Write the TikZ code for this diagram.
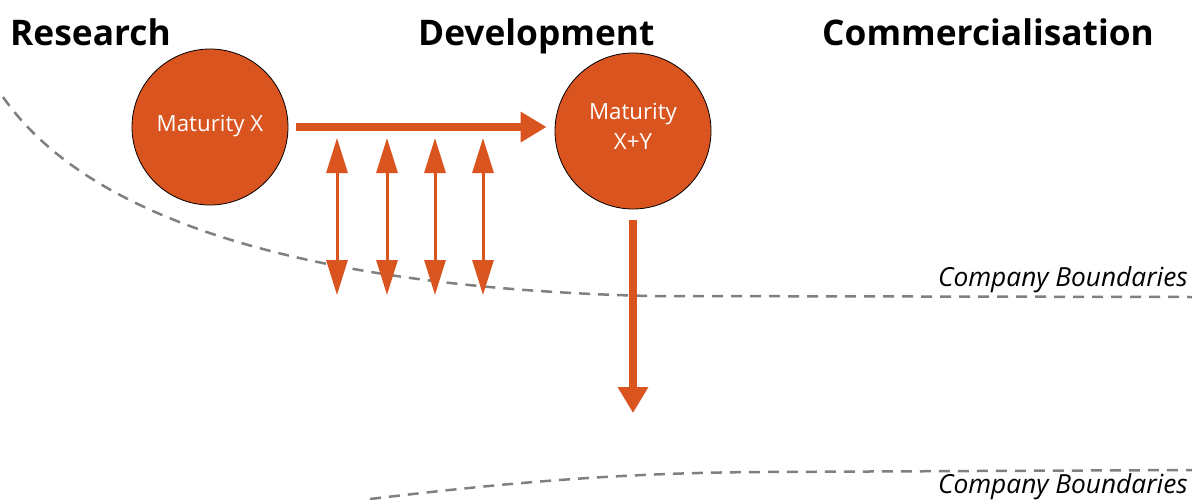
\documentclass[tikz,border=0pt]{standalone}
\usepackage{fontspec}
\setmainfont{Open Sans}
\usetikzlibrary{arrows.meta,calc}
\definecolor{rust}{RGB}{217,84,31}
\definecolor{dashgray}{RGB}{128,128,128}
\begin{document}
\begin{tikzpicture}[x=1pt,y=-1pt,
 title/.style={font=\bfseries\fontsize{35.3}{40}\selectfont, anchor=base west, inner sep=0pt},
 circ/.style={circle, fill=rust, draw=black, line width=0.8pt, minimum size=156pt, inner sep=0pt},
 circtext/.style={text=white, font=\fontsize{22.3}{30}\selectfont, align=center, inner sep=0pt},
 bigarrow/.style={draw=rust, line width=8pt, -{Triangle[length=26pt,width=29pt]}},
 dblarrow/.style={draw=rust, line width=3pt, {Triangle[length=35pt,width=21pt]}-{Triangle[length=35pt,width=21pt]}},
 bound/.style={draw=dashgray, line width=2.5pt, dash pattern=on 11pt off 8pt},
 blabel/.style={font=\itshape\fontsize{26.3}{30}\selectfont, anchor=base east, inner sep=0pt}]
\useasboundingbox (0,0) rectangle (1192,499);
\fill[white] (0,0) rectangle (1192,499);

% boundaries
\draw[bound] (3,97) .. controls (110,250) and (400,290) .. (650,296) -- (1192,297);
\draw[bound] (370,499) .. controls (480,486) and (600,473) .. (760,472) -- (1192,470);
\node[blabel] (lb1) at (1188,286) {Company Boundaries};
\node[blabel] (lb2) at (1188,493) {Company Boundaries};

% titles
\node[title] (t1) at (10,45) {Research};
\node[title] (t2) at (418,45) {Development};
\node[title] (t3) at (822,45) {Commercialisation};

% circles
\node[circ] (m1) at (210,127) {};
\node[circtext] (m1t) at ($(m1)+(0,-1)$) {Maturity X};
\node[circ] (m2) at (633,131) {};
\node[circtext] (m2t) at ($(m2)+(0,-5)$) {Maturity\\X+Y};

% arrows
\draw[bigarrow] ($(m1.east)+(8,0)$) -- ($(m2.west |- m1.east)+(-8,0)$);
\coordinate (vend) at (633,413);
\draw[bigarrow] ($(m2.south)+(0,11)$) -- (vend);

\foreach \i/\x in {1/337,2/387,3/435,4/483}{
  \coordinate (a\i t) at (\x,138);
  \coordinate (a\i b) at (\x,295);
  \draw[dblarrow] (a\i t) -- (a\i b);
}
\end{tikzpicture}
\end{document}
